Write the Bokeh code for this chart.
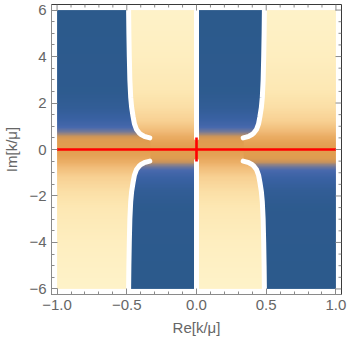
import numpy as np
from bokeh.plotting import figure
from bokeh.models import FixedTicker, Range1d
from bokeh.embed import file_html
from bokeh.resources import INLINE

# ---------------- data ----------------
# white exclusion curve in the first quadrant (mirrored to the other quadrants)
curve_y = [0.50, 0.53, 0.57, 0.63, 0.72, 0.86, 1.10, 1.42, 1.80, 2.25, 3.0, 4.0, 5.0, 6.0]
curve_x = [0.335, 0.355, 0.375, 0.395, 0.412, 0.43, 0.445, 0.455, 0.465, 0.472, 0.478, 0.482, 0.485, 0.487]
# vertical white cut on Re = 0
cut_y = [0.50, 6.0]

# strength of the orange band versus |Im| inside the blue regions
blue_prof_y = [0.0, 0.25, 0.40, 0.50, 0.60, 0.70, 0.85, 1.00, 1.30, 1.80, 2.50, 6.0]
blue_prof_w = [1.0, 0.97, 0.90, 0.80, 0.65, 0.50, 0.35, 0.25, 0.15, 0.07, 0.02, 0.0]
# ... and inside the cream regions
cream_prof_y = [0.0, 0.30, 0.50, 0.80, 1.20, 1.80, 2.50, 4.00, 6.0]
cream_prof_w = [1.0, 0.93, 0.84, 0.64, 0.44, 0.28, 0.17, 0.07, 0.0]

# colour stops
blue_t = [0.0, 0.15, 0.30, 0.50, 0.70, 0.85, 1.0]
blue_c = ["#2c5a8c", "#3a62a3", "#4a6aae", "#86808e", "#c4925f", "#dc9b53", "#e39e4f"]
cream_t = [0.0, 0.20, 0.45, 0.70, 0.90, 1.0]
cream_c = ["#fff3c9", "#fde6b0", "#f8d092", "#f0b873", "#e8a75c", "#e39e4f"]

# red markers
red_h_x = [-1.0, 1.0]
red_h_y = [0.0, 0.0]
red_v_x = [0.0, 0.0]
red_v_y = [-0.52, 0.52]

x_major = [-1.0, -0.5, 0.0, 0.5, 1.0]
x_labels = ["\u22121.0", "\u22120.5", "0.0", "0.5", "1.0"]
x_minor = [-0.9, -0.8, -0.7, -0.6, -0.4, -0.3, -0.2, -0.1,
           0.1, 0.2, 0.3, 0.4, 0.6, 0.7, 0.8, 0.9]
y_major = [-6, -4, -2, 0, 2, 4, 6]
y_labels = ["\u22126", "\u22124", "\u22122", "0", "2", "4", "6"]
y_minor = [-5.5, -5, -4.5, -3.5, -3, -2.5, -1.5, -1, -0.5,
           0.5, 1, 1.5, 2.5, 3, 3.5, 4.5, 5, 5.5]

X0, X1 = -1.04, 1.04
Y0, Y1 = -6.24, 6.24

# ---------------- raster of the density image ----------------
def hex2rgb(h):
    return [int(h[i:i + 2], 16) for i in (1, 3, 5)]

def colour(w, t, cols):
    rgb = np.array([hex2rgb(c) for c in cols], dtype=float)
    return np.stack([np.interp(w, t, rgb[:, k]) for k in range(3)], axis=-1)

nx, ny = 300, 360
gx = np.linspace(-1, 1, nx)
gy = np.linspace(-6, 6, ny)
X, Y = np.meshgrid(gx, gy)
AY = np.abs(Y)
Cx = np.interp(AY, curve_y, curve_x)
is_blue = np.where(Y > 0,
                   (X < -Cx) | ((X > 0) & (X < Cx)),
                   ((X > -Cx) & (X < 0)) | (X > Cx))
wb = np.interp(AY, blue_prof_y, blue_prof_w)
wc = np.interp(AY, cream_prof_y, cream_prof_w)
rgb = np.where(is_blue[..., None], colour(wb, blue_t, blue_c), colour(wc, cream_t, cream_c))

img = np.empty((ny, nx), dtype=np.uint32)
view = img.view(dtype=np.uint8).reshape((ny, nx, 4))
for k in range(3):
    view[..., k] = np.clip(rgb[..., k], 0, 255).astype(np.uint8)
view[..., 3] = 255

# ---------------- figure ----------------
FONT = "Liberation Sans"
FW, FH = 290, 290
p = figure(frame_width=FW, frame_height=FH, x_range=Range1d(X0, X1), y_range=Range1d(Y0, Y1),
           output_backend="svg", toolbar_location=None,
           min_border_left=46, min_border_right=8, min_border_top=4, min_border_bottom=46)
p.outline_line_color = "#3a3a3a"
p.outline_line_width = 1
p.xgrid.visible = False
p.ygrid.visible = False
p.background_fill_color = "white"

p.image_rgba(image=[img], x=-1, y=-6, dw=2, dh=12)

wl = dict(line_color="white", line_width=5, line_cap="round")
cx = np.array(curve_x)
cy = np.array(curve_y)
for sx, sy in [(1, 1), (-1, 1), (1, -1), (-1, -1)]:
    p.line(sx * cx, sy * cy, **wl)
p.line([0, 0], cut_y, **wl)
p.line([0, 0], [-v for v in cut_y], **wl)

p.line(red_h_x, red_h_y, line_color="#ff0000", line_width=2.6)
p.line(red_v_x, red_v_y, line_color="#ff0000", line_width=2.6)

# inward ticks on the top and right frame edges
ux = (X1 - X0) / FW   # data units per pixel
uy = (Y1 - Y0) / FH
TICK = "#8a8a8a"
p.segment(x0=x_major, y0=[Y1] * len(x_major), x1=x_major, y1=[Y1 - 6 * uy] * len(x_major),
          line_color=TICK, line_width=1)
p.segment(x0=x_minor, y0=[Y1] * len(x_minor), x1=x_minor, y1=[Y1 - 3 * uy] * len(x_minor),
          line_color=TICK, line_width=1)
p.segment(x0=[X1] * len(y_major), y0=y_major, x1=[X1 - 6 * ux] * len(y_major), y1=y_major,
          line_color=TICK, line_width=1)
p.segment(x0=[X1] * len(y_minor), y0=y_minor, x1=[X1 - 3 * ux] * len(y_minor), y1=y_minor,
          line_color=TICK, line_width=1)

xt = FixedTicker(ticks=x_major, minor_ticks=x_minor)
yt = FixedTicker(ticks=y_major, minor_ticks=y_minor)

def style(ax):
    ax.axis_line_color = "#8a8a8a"
    ax.axis_line_width = 1
    ax.major_tick_in = 6
    ax.major_tick_out = 0
    ax.minor_tick_in = 3
    ax.minor_tick_out = 0
    ax.major_tick_line_color = TICK
    ax.minor_tick_line_color = TICK
    ax.major_label_standoff = 5
    ax.major_label_text_font = FONT
    ax.major_label_text_font_size = "15px"
    ax.major_label_text_color = "#666666"
    ax.axis_label_text_font = FONT
    ax.axis_label_text_font_size = "15px"
    ax.axis_label_text_font_style = "normal"
    ax.axis_label_text_color = "#666666"
    ax.axis_label_standoff = 6

xa = p.xaxis[0]
xa.ticker = xt
xa.major_label_overrides = dict(zip(x_major, x_labels))
xa.axis_label = "Re[k/\u03bc]"
style(xa)

ya = p.yaxis[0]
ya.ticker = yt
ya.major_label_overrides = dict(zip(y_major, y_labels))
ya.axis_label = "Im[k/\u03bc]"
style(ya)

open("out.html", "w").write(file_html(p, INLINE))
